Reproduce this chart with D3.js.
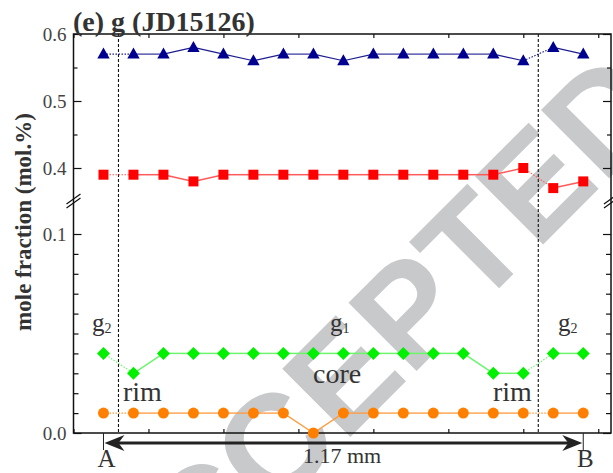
<!DOCTYPE html>
<html>
    <head>
        <title>g (JD15126) profile</title>
        <script src="https://d3js.org/d3.v7.min.js"></script>
        <style>
            body { margin: 0; background: #fff; }
            svg { display: block; }
            text { font-family: "Liberation Serif", "Times New Roman", serif; fill: #333; }
        </style>
    </head>
    <body>
        <svg id="chart" width="613" height="473"></svg>
        <script>
            // distance along the traverse (arbitrary axis units, 0.4 per spot)
            var spots = [0.4, 0.8, 1.2, 1.6, 2.0, 2.4, 2.8, 3.2, 3.6, 4.0, 4.4, 4.8, 5.2, 5.6, 6.0, 6.4, 6.8];
            var blueVals = [0.57, 0.57, 0.57, 0.58, 0.57, 0.56, 0.57, 0.57, 0.56, 0.57, 0.57, 0.57, 0.57, 0.57, 0.56, 0.58, 0.57];
            var redVals = [0.39, 0.39, 0.39, 0.38, 0.39, 0.39, 0.39, 0.39, 0.39, 0.39, 0.39, 0.39, 0.39, 0.39, 0.40, 0.37, 0.38];
            var greenVals = [0.04, 0.03, 0.04, 0.04, 0.04, 0.04, 0.04, 0.04, 0.04, 0.04, 0.04, 0.04, 0.04, 0.03, 0.03, 0.04, 0.04];
            var orangeVals = [0.01, 0.01, 0.01, 0.01, 0.01, 0.01, 0.01, 0.00, 0.01, 0.01, 0.01, 0.01, 0.01, 0.01, 0.01, 0.01, 0.01];
            // segments that cross the rim boundary are drawn dotted
            var dottedSegs = [0, 14];
            var boundaries = [0.6, 6.2];
            var topMajor = [0.4, 0.5, 0.6];
            var topMinor = [0.45, 0.55];
            var botMajor = [0.0, 0.1];
            var botMinor = [0.01, 0.02, 0.03, 0.04, 0.05, 0.06, 0.07, 0.08, 0.09];
            var xTicks = [0, 1, 2, 3, 4, 5, 6, 7];

            var svg = d3.select('#chart');
            var pL = 73.5, pR = 611, pT = 34, pB = 433;

            var x = d3.scaleLinear().domain([0, 7.17]).range([pL, pR]);
            var yTop = d3.scaleLinear().domain([0.35, 0.6]).range([201.5, pT]);
            var yBot = d3.scaleLinear().domain([0, 0.1]).range([pB, 234]);

            // watermark
            svg.append('text')
                .attr('transform', 'translate(366,350) rotate(-45)')
                .attr('text-anchor', 'middle')
                .attr('dy', '0.36em')
                .style('font-family', '"Liberation Sans", Arial, sans-serif')
                .style('font-weight', 'bold')
                .style('font-size', '140px')
                .style('fill', '#c8c9cb')
                .text('ACCEPTED');

            // frame
            svg.append('rect')
                .attr('x', pL).attr('y', pT)
                .attr('width', pR - pL).attr('height', pB - pT)
                .attr('fill', 'none').attr('stroke', '#111').attr('stroke-width', 1.5);

            function yAxis(gen, scale, vals, size, labels) {
                return gen(scale).tickValues(vals).tickSize(size).tickPadding(7)
                    .tickFormat(labels ? d3.format('.1f') : '');
            }

            var lx = svg.append('g').attr('transform', 'translate(' + pL + ',0)');
            lx.append('g').call(yAxis(d3.axisLeft, yTop, topMajor, -8, true));
            lx.append('g').call(yAxis(d3.axisLeft, yTop, topMinor, -4, false));
            lx.append('g').call(yAxis(d3.axisLeft, yBot, botMajor, -8, true));
            lx.append('g').call(yAxis(d3.axisLeft, yBot, botMinor, -5, false));

            var rx = svg.append('g').attr('transform', 'translate(' + pR + ',0)');
            rx.append('g').call(yAxis(d3.axisRight, yTop, topMajor, -8, false));
            rx.append('g').call(yAxis(d3.axisRight, yTop, topMinor, -4, false));
            rx.append('g').call(yAxis(d3.axisRight, yBot, botMajor, -8, false));
            rx.append('g').call(yAxis(d3.axisRight, yBot, botMinor, -5, false));

            svg.append('g').attr('transform', 'translate(0,' + pB + ')')
                .call(d3.axisBottom(x).tickValues(xTicks).tickSize(-4).tickFormat(''));
            svg.append('g').attr('transform', 'translate(0,' + pT + ')')
                .call(d3.axisTop(x).tickValues(xTicks).tickSize(-4).tickFormat(''));

            svg.selectAll('.domain').remove();
            svg.selectAll('.tick line').attr('stroke', '#111').attr('stroke-width', 1.2);
            svg.selectAll('.tick text')
                .style('font-family', '"Liberation Serif", serif')
                .style('font-size', '19px')
                .style('fill', '#444');

            // axis break marks
            [[pL, 201], [pR, 201]].forEach(function (p) {
                [-2, 2].forEach(function (o) {
                    svg.append('line')
                        .attr('x1', p[0] - 7).attr('y1', p[1] + 5 + o)
                        .attr('x2', p[0] + 7).attr('y2', p[1] - 5 + o)
                        .attr('stroke', '#111').attr('stroke-width', 1.2);
                });
            });

            // rim / core boundaries
            svg.selectAll('.bound')
                .data(boundaries)
                .enter()
                .append('line')
                .attr('x1', (d) => x(d)).attr('x2', (d) => x(d))
                .attr('y1', pT).attr('y2', pB)
                .attr('stroke', '#111').attr('stroke-width', 1.1)
                .attr('stroke-dasharray', '3,2');

            var tri = 'M0,-6.5L6.2,4.5L-6.2,4.5Z';
            var sq = 'M-5,-5L5,-5L5,5L-5,5Z';
            var dia = 'M0,-6.5L6.5,0L0,6.5L-6.5,0Z';
            var circ = d3.symbol().type(d3.symbolCircle).size(Math.PI * 5.5 * 5.5)();

            var series = [
                { vals: blueVals, y: yTop, line: '#1c1c8f', fill: '#000090', shape: tri, w: 1.1 },
                { vals: redVals, y: yTop, line: '#ff5a5a', fill: '#ff0000', shape: sq, w: 1.5 },
                { vals: greenVals, y: yBot, line: '#6cf56c', fill: '#00f000', shape: dia, w: 1.5 },
                { vals: orangeVals, y: yBot, line: '#ff9a3c', fill: '#ff8000', shape: circ, w: 1.3 }
            ];

            series.forEach(function (s) {
                var segs = d3.range(spots.length - 1);
                svg.append('g').selectAll('line')
                    .data(segs)
                    .enter()
                    .append('line')
                    .attr('x1', (i) => x(spots[i])).attr('y1', (i) => s.y(s.vals[i]))
                    .attr('x2', (i) => x(spots[i + 1])).attr('y2', (i) => s.y(s.vals[i + 1]))
                    .attr('stroke', s.line)
                    .attr('stroke-width', (i) => dottedSegs.indexOf(i) >= 0 ? 1.1 : s.w)
                    .attr('stroke-dasharray', (i) => dottedSegs.indexOf(i) >= 0 ? '1.5,1.5' : null);
                svg.append('g').selectAll('path')
                    .data(s.vals)
                    .enter()
                    .append('path')
                    .attr('d', s.shape)
                    .attr('transform', (d, i) => 'translate(' + x(spots[i]) + ',' + s.y(d) + ')')
                    .attr('fill', s.fill);
            });

            // title and axis label
            svg.append('text')
                .attr('x', 73).attr('y', 31)
                .style('font-weight', 'bold').style('font-size', '28px')
                .text('(e) g (JD15126)');

            svg.append('text')
                .attr('transform', 'translate(31,222) rotate(-90)')
                .attr('text-anchor', 'middle')
                .style('font-weight', 'bold').style('font-size', '23px')
                .text('mole fraction (mol.%)');

            // annotations
            function gLabel(xp, sub) {
                var t = svg.append('text').attr('x', xp).attr('y', 331).style('font-size', '25px');
                t.append('tspan').text('g');
                t.append('tspan').attr('dy', 2).style('font-size', '14px').text(sub);
            }
            gLabel(92, '2');
            gLabel(330, '1');
            gLabel(558, '2');

            [['rim', 123, 401], ['core', 313, 383], ['rim', 493, 401]].forEach(function (a) {
                svg.append('text').attr('x', a[1]).attr('y', a[2])
                    .style('font-size', '28px').text(a[0]);
            });

            // A-B traverse arrow
            var ax0 = x(spots[0]), ax1 = x(spots[spots.length - 1]), ay = 443;
            svg.append('line')
                .attr('x1', ax0 + 10).attr('x2', ax1 - 10)
                .attr('y1', ay).attr('y2', ay)
                .attr('stroke', '#222').attr('stroke-width', 3);
            svg.append('path')
                .attr('d', 'M' + (ax0 + 1) + ',' + ay + 'L' + (ax0 + 21) + ',' + (ay - 8) + 'L' + (ax0 + 15) + ',' + ay + 'L' + (ax0 + 21) + ',' + (ay + 8) + 'Z')
                .attr('fill', '#222');
            svg.append('path')
                .attr('d', 'M' + (ax1 - 1) + ',' + ay + 'L' + (ax1 - 21) + ',' + (ay - 8) + 'L' + (ax1 - 15) + ',' + ay + 'L' + (ax1 - 21) + ',' + (ay + 8) + 'Z')
                .attr('fill', '#222');
            [ax0, ax1].forEach(function (xp) {
                svg.append('line').attr('x1', xp).attr('x2', xp)
                    .attr('y1', 433).attr('y2', 450)
                    .attr('stroke', '#222').attr('stroke-width', 1);
            });
            svg.append('text').attr('x', ax0 + 3).attr('y', 467).attr('text-anchor', 'middle')
                .style('font-size', '25px').text('A');
            svg.append('text').attr('x', ax1 + 2).attr('y', 467).attr('text-anchor', 'middle')
                .style('font-size', '25px').text('B');
            svg.append('text').attr('x', 342).attr('y', 463).attr('text-anchor', 'middle')
                .style('font-size', '22px').text('1.17 mm');
        </script>
    </body>
</html>
